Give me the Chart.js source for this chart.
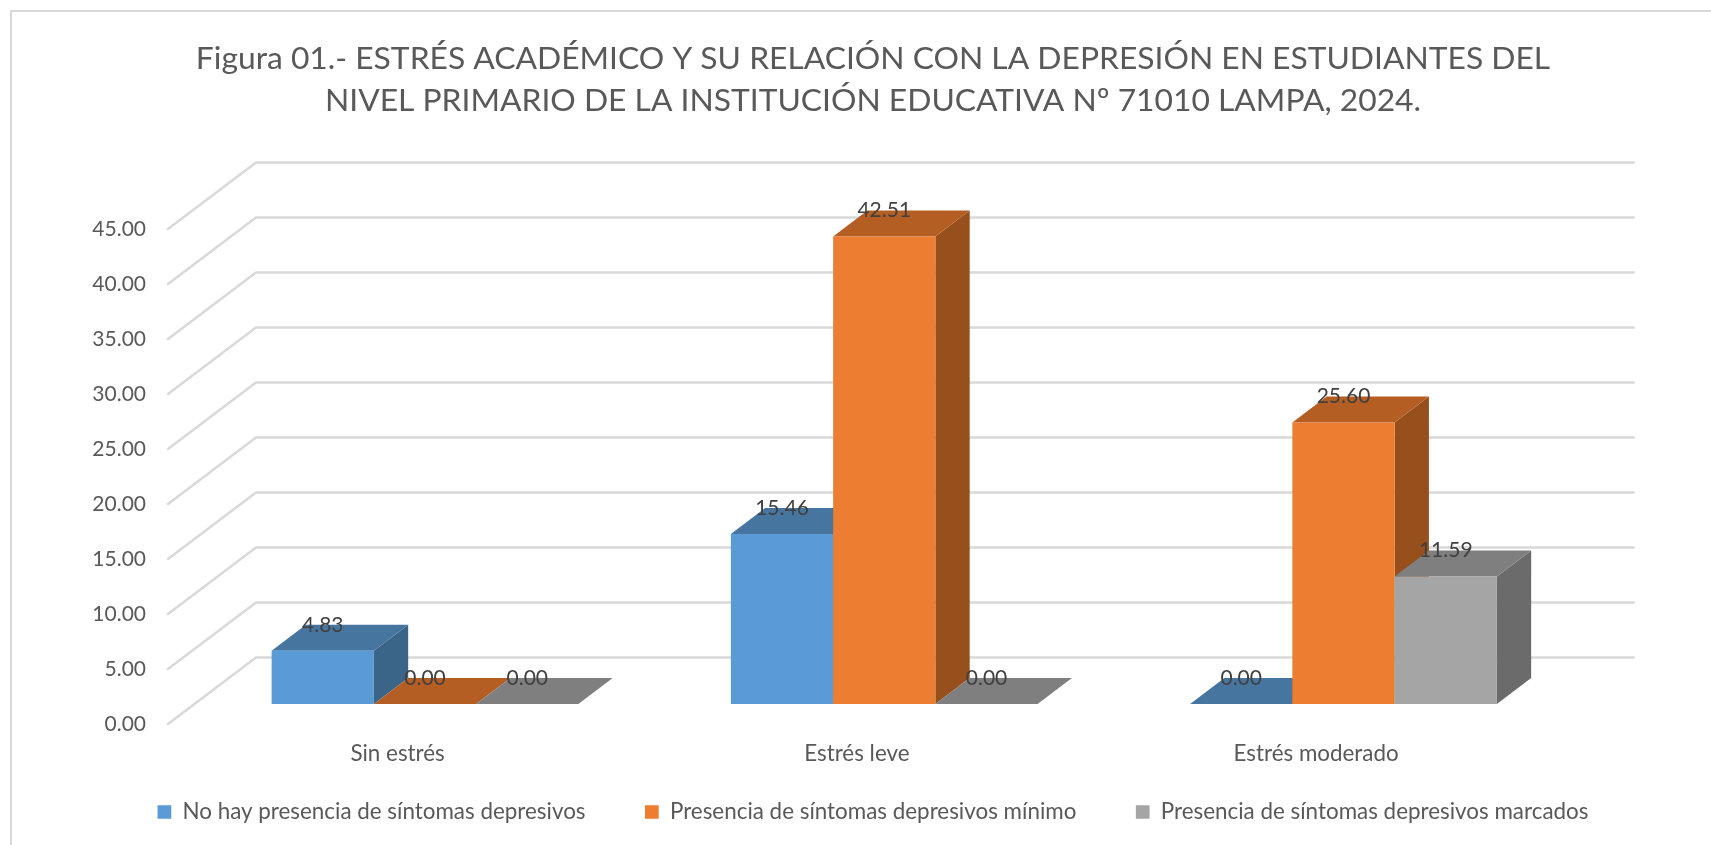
<!DOCTYPE html>
<html><head><meta charset="utf-8">
<style>html,body{margin:0;padding:0;background:#fff;overflow:hidden}#w{position:relative;width:1711px;height:845px;overflow:hidden}canvas{display:block}</style>
<script src="https://cdn.jsdelivr.net/npm/chart.js@4/dist/chart.umd.min.js"></script>
</head><body><div id="w"><canvas id="c" width="1711" height="845"></canvas></div>
<script>
const titleLines = ["Figura 01.- ESTRÉS ACADÉMICO Y SU RELACIÓN CON LA DEPRESIÓN EN ESTUDIANTES DEL","NIVEL PRIMARIO DE LA INSTITUCIÓN EDUCATIVA Nº 71010 LAMPA, 2024."];
const categories = ["Sin estrés","Estrés leve","Estrés moderado"];
const seriesNames = ["No hay presencia de síntomas depresivos","Presencia de síntomas depresivos mínimo","Presencia de síntomas depresivos marcados"];
const noHay = [4.83,15.46,0.00];
const minimo = [0.00,42.51,25.60];
const marcados = [0.00,0.00,11.59];
const yTicks = [0,5,10,15,20,25,30,35,40,45];
const frontColors = ["#5B9BD5","#ED7D31","#A5A5A5"];
const topColors = ["#4675A0","#B45E24","#7F7F7F"];
const sideColors = ["#3A6589","#974F1C","#6B6B6B"];
const FONT = "Lato";
const TEXT = "#595959";
const wall = {dx:88, dy:66.5};
const barShift = {x:27.4, y:-20};
const barDepth = {x:34.3, y:26};

function face(ctx, pts, color){
  ctx.beginPath();
  pts.forEach((p,i)=> i?ctx.lineTo(p[0],p[1]):ctx.moveTo(p[0],p[1]));
  ctx.closePath(); ctx.fillStyle=color; ctx.fill();
}
const depth3d = {
  id:"depth3d",
  beforeDraw(chart){
    const c=chart.ctx;
    c.save();
    c.strokeStyle="#D9D9D9"; c.lineWidth=2;
    c.beginPath(); c.moveTo(11,845); c.lineTo(11,11); c.lineTo(1711,11); c.stroke();
    c.restore();
  },
  beforeDatasetsDraw(chart){
    const c=chart.ctx, y=chart.scales.y, a=chart.chartArea;
    c.save();
    c.strokeStyle="#D9D9D9"; c.lineWidth=2.5; c.lineCap="round"; c.lineJoin="round";
    yTicks.forEach(v=>{
      const py=y.getPixelForValue(v);
      c.beginPath();
      c.moveTo(a.left,py);
      c.lineTo(a.left+wall.dx,py-wall.dy);
      c.lineTo(a.right+wall.dx,py-wall.dy);
      c.stroke();
    });
    c.restore();
    /* boxes painted left to right, so each one overlaps its left neighbour */
    chart.data.datasets.forEach((ds,i)=>{
      const meta=chart.getDatasetMeta(i);
      c.save();
      c.translate(barShift.x,barShift.y);
      meta.data.forEach(b=>{
        const p=b.getProps(["x","y","base","width"],true);
        const l=p.x-p.width/2, r=p.x+p.width/2, d=barDepth;
        if(p.base-p.y>0.5) face(c,[[r,p.y],[r+d.x,p.y-d.y],[r+d.x,p.base-d.y],[r,p.base]],sideColors[i]);
        face(c,[[l,p.y],[r,p.y],[r+d.x,p.y-d.y],[l+d.x,p.y-d.y]],topColors[i]);
      });
      meta.controller.draw();
      c.restore();
    });
    c.save();
    c.font="21px "+FONT; c.fillStyle="#404040"; c.textAlign="center"; c.textBaseline="middle";
    chart.data.datasets.forEach((ds,i)=>{
      chart.getDatasetMeta(i).data.forEach((b,j)=>{
        const p=b.getProps(["x","y"],true);
        c.fillText(ds.data[j].toFixed(2), p.x+barShift.x, p.y+barShift.y-barDepth.y);
      });
    });
    c.restore();
    return false;
  }
};
Chart.defaults.font.family=FONT;
new Chart(document.getElementById("c"),{
  type:"bar",
  data:{labels:categories,datasets:[
    {label:seriesNames[0],data:noHay,backgroundColor:frontColors[0]},
    {label:seriesNames[1],data:minimo,backgroundColor:frontColors[1]},
    {label:seriesNames[2],data:marcados,backgroundColor:frontColors[2]}
  ].map(d=>Object.assign(d,{categoryPercentage:0.668,barPercentage:1,borderWidth:0}))},
  plugins:[depth3d],
  options:{
    responsive:false,animation:false,devicePixelRatio:1,
    layout:{padding:{left:35,right:0,top:0,bottom:11.8}},
    scales:{
      x:{grid:{display:false},border:{display:false},
         ticks:{color:TEXT,font:{size:22.4},padding:8.8,maxRotation:0},
         afterFit(s){s.height=17.4; s._computeLabelArea=()=>undefined;}},
      y:{min:0,max:45,grid:{display:false},border:{display:false},
         afterBuildTicks(s){ s.ticks=yTicks.map(v=>({value:v})); },
         ticks:{color:TEXT,font:{size:21},padding:14,callback:v=>Number(v).toFixed(2)},
         afterFit(s){s.width=133;}},
      yRight:{position:"right",min:0,max:45,grid:{display:false},border:{display:false},
         ticks:{display:false},
         afterFit(s){s.width=165.3;}}
    },
    plugins:{
      title:{display:true,text:titleLines,color:TEXT,font:{size:31.8,weight:"normal",lineHeight:1.31},padding:{top:38,bottom:107.8},align:"center"},
      legend:{position:"bottom",labels:{color:TEXT,font:{size:22.4},boxWidth:13.7,boxHeight:13.7,padding:59.5}},
      tooltip:{enabled:false}
    }
  }
});
</script></body></html>
